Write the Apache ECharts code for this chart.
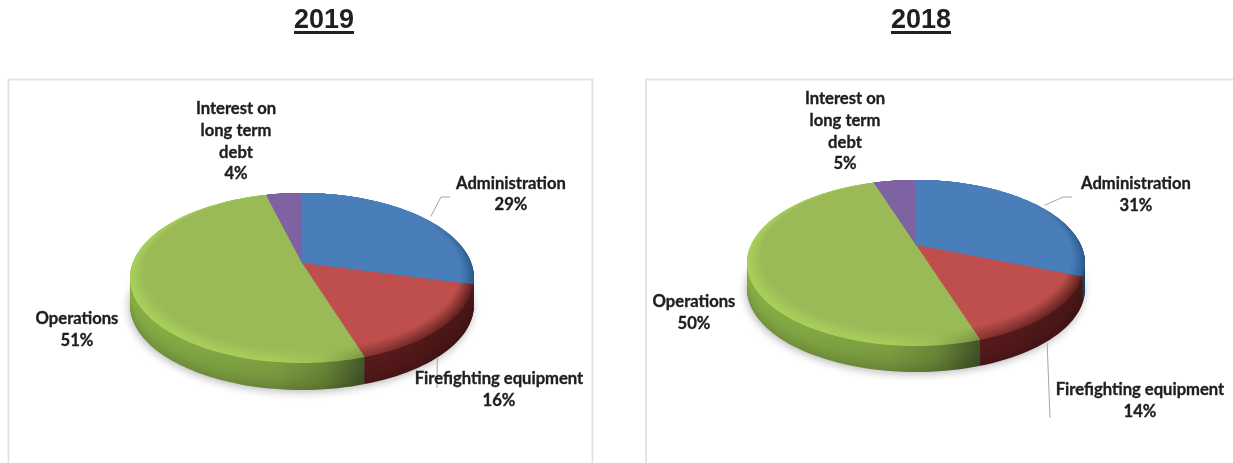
<!DOCTYPE html>
<html>
<head>
<meta charset="utf-8">
<style>html,body{margin:0;padding:0;background:#fff}#chart{width:1233px;height:463px}</style>
<script src="https://cdn.jsdelivr.net/npm/echarts@6/dist/echarts.min.js"></script>
</head>
<body>
<div id="chart"></div>
<script>
// Expense breakdown by year, drawn as two tilted, extruded pies.
const categories = ['Administration', 'Firefighting equipment', 'Operations', 'Interest on\nlong term\ndebt'];
const shares2019 = [29, 16, 51, 4];
const shares2018 = [31, 14, 50, 5];
const years = ['2019', '2018'];

// Slice colours: flat top face, then [offset across the pie, colour] stops for the rim and side wall.
const palette = [
  { face: '#4a7ebb',
    rim: [[0, '#4a7ebb'], [0.85, '#4a7ebb'], [1, '#2c5a8e']],
    wall: [[0, '#3a659a'], [0.9, '#2c5584'], [1, '#1d4066']] },
  { face: '#be4f4c',
    rim: [[0, '#b04a47'], [0.68, '#8a3431'], [1, '#5c201e']],
    wall: [[0, '#5c201e'], [0.75, '#55191a'], [1, '#471615']] },
  { face: '#9aba58',
    rim: [[0, '#a9d15a'], [0.42, '#a8cd59'], [0.55, '#9ec056'], [0.68, '#7a9642']],
    wall: [[0, '#88ae46'], [0.42, '#7b9e40'], [0.56, '#698737'], [0.68, '#43572a']] },
  { face: '#7f62a1',
    rim: [[0, '#7f62a1'], [1, '#7f62a1']],
    wall: [[0, '#5f4680'], [1, '#4a3565']] }
];

// Pie geometry, label block centres and leader routes, one entry per year.
const pieLayouts = [
  {
    cx: 302, cy: 278, rx: 172, ry: 85, tilt: -0.176, depth: 27,
    labelAt: [[511, 194], [499, 389.5], [77, 329.5], [236, 141.5]],
    leaders: [
      { shift: [8, -1], bends: [[441, 197], [450, 197]] },
      { shift: [-5, 4], bends: [[437, 388]] },
      null, null
    ]
  },
  {
    cx: 916, cy: 263, rx: 169, ry: 83, tilt: -0.217, depth: 26,
    labelAt: [[1136, 194.5], [1140, 400.5], [694, 312.5], [845, 131.5]],
    leaders: [
      { shift: [7, 0], bends: [[1063, 197], [1072, 197]] },
      { shift: [-3, 4], bends: [[1050, 418]] },
      null, null
    ]
  }
];

const RIM_STEPS = 9;
const WALL_STEPS = 28;
const ARC_SAMPLES = 2; // degrees between samples along the arc

function hexToRgb(h) {
  return [1, 3, 5].map(i => parseInt(h.slice(i, i + 2), 16));
}
function mix(a, b, t) {
  const A = hexToRgb(a), B = hexToRgb(b);
  return '#' + A.map((v, i) => Math.round(v + (B[i] - v) * t).toString(16).padStart(2, '0')).join('');
}

// Projects a point of the unit disc onto the tilted pie, with perspective.
function project(layout, u, v) {
  const k = layout.tilt;
  const d = 1 + k * v;
  return [
    layout.cx + layout.rx * u * Math.sqrt(1 - k * k) / d,
    layout.cy + layout.ry * (v + k) / d
  ];
}

// Polar-to-pie point; angle runs clockwise from twelve o'clock in percent of the circle.
function piePoint(layout, pct, radius) {
  const a = pct / 100 * Math.PI * 2;
  return project(layout, Math.sin(a) * radius, -Math.cos(a) * radius);
}

// Outline of a slice. rimInset pulls the arc in, mostly along the lower edge.
function sliceOutline(layout, from, to, rimInset, dy) {
  const apex = project(layout, 0, 0);
  const pts = [[apex[0], apex[1] + dy]];
  const n = Math.max(2, Math.ceil((to - from) * 3.6 / ARC_SAMPLES));
  for (let i = 0; i <= n; i++) {
    const pct = from + (to - from) * i / n;
    const a = pct / 100 * Math.PI * 2;
    const low = (1 - Math.cos(a)) / 2;
    const r = 1 - rimInset * Math.pow(low, 0.7);
    const p = piePoint(layout, pct, r);
    pts.push([p[0], p[1] + dy]);
  }
  return pts;
}

function horizontalFill(layout, stops) {
  const x0 = layout.cx - layout.rx, x1 = layout.cx + layout.rx;
  return new echarts.graphic.LinearGradient(x0, 0, x1, 0,
    stops.map(s => ({ offset: s[0], color: s[1] })), true);
}

// Wall darkens slightly toward the floor.
function wallFill(layout, slice, t) {
  return horizontalFill(layout, slice.wall.map(s => [s[0], mix(s[1], '#000000', 0.16 * t * t)]));
}

// The rim blends into the face colour as it moves inward.
function rimFill(layout, slice, t) {
  return horizontalFill(layout, slice.rim.map(s => [s[0], mix(s[1], slice.face, t)]));
}

function labelText(name, share) {
  return name + '\n' + share + '%';
}

function makeRenderer(layout, shares) {
  const total = shares.reduce((s, v) => s + v, 0);
  return function (params, api) {
    const idx = params.dataIndex;
    const share = api.value(0);
    let startShare = 0;
    for (let i = 0; i < idx; i++) startShare += shares[i];
    const from = startShare / total * 100;
    const to = from + share / total * 100;
    const slice = palette[idx];
    const children = [];

    // soft contact shadow beneath the disc
    if (idx === 0) {
      children.push({
        type: 'polygon', z2: 0, silent: true,
        shape: { points: sliceOutline(layout, 0, 100, 0, layout.depth).slice(1) },
        style: { fill: '#c4c4c4', shadowBlur: 8, shadowColor: 'rgba(0,0,0,0.28)', shadowOffsetY: 2, shadowOffsetX: -1 }
      });
    }

    // side wall, stacked from the floor upward
    for (let s = WALL_STEPS; s >= 0; s--) {
      const t = s / WALL_STEPS;
      children.push({
        type: 'polygon', z2: 10 + (WALL_STEPS - s), silent: true,
        shape: { points: sliceOutline(layout, from, to, 0, layout.depth * t) },
        style: { fill: wallFill(layout, slice, t) }
      });
    }

    // top face, fading from the rim colour to the flat face colour
    for (let s = 0; s <= RIM_STEPS; s++) {
      const t = s / RIM_STEPS;
      children.push({
        type: 'polygon', z2: 100 + s, silent: true,
        shape: { points: sliceOutline(layout, from, to, 0.11 * t, 0) },
        style: { fill: rimFill(layout, slice, t) }
      });
    }

    // leader line from the middle of the arc to the label
    const leader = layout.leaders[idx];
    if (leader) {
      const mid = piePoint(layout, (from + to) / 2, 1);
      const wallDrop = mid[1] > layout.cy ? layout.depth : 0;
      const start = [mid[0] + leader.shift[0], mid[1] + wallDrop + leader.shift[1]];
      children.push({
        type: 'polyline', z2: 150, silent: true,
        shape: { points: [start].concat(leader.bends) },
        style: { fill: null, stroke: '#a6a6a6', lineWidth: 1 }
      });
    }

    // category name and percentage
    const at = layout.labelAt[idx];
    children.push({
      type: 'text', z2: 200, silent: true,
      x: at[0], y: at[1],
      style: {
        text: labelText(categories[idx], share),
        fill: '#1e1e1e',
        stroke: '#1e1e1e',
        lineWidth: 0.35,
        font: 'bold 16.6px Lato, "Noto Sans", sans-serif',
        lineHeight: 21.7,
        align: 'center',
        verticalAlign: 'middle'
      }
    });

    return { type: 'group', children };
  };
}

const seriesShares = [shares2019, shares2018];
const titleStyle = { fontFamily: 'Liberation Sans', fontWeight: 'bold', fontSize: 27, color: '#231f20' };

const option = {
  animation: false,
  backgroundColor: '#ffffff',
  title: [
    { text: years[0], left: 294, top: 7, textStyle: titleStyle, padding: 0 },
    { text: years[1], left: 891, top: 7, textStyle: titleStyle, padding: 0 }
  ],
  graphic: [
    // year underlines
    { type: 'rect', silent: true, shape: { x: 294, y: 31, width: 60, height: 3 }, style: { fill: '#231f20' } },
    { type: 'rect', silent: true, shape: { x: 891, y: 31, width: 60, height: 3 }, style: { fill: '#231f20' } },
    // panel frames, open at the page edge
    { type: 'polyline', silent: true, shape: { points: [[8.5, 463], [8.5, 79.5], [592.5, 79.5], [592.5, 463]] },
      style: { fill: null, stroke: '#e3e5e5', lineWidth: 2 } },
    { type: 'polyline', silent: true, shape: { points: [[646, 463], [646, 79.5], [1233, 79.5]] },
      style: { fill: null, stroke: '#e3e5e5', lineWidth: 2 } }
  ],
  series: seriesShares.map((shares, i) => ({
    type: 'custom',
    coordinateSystem: 'none',
    silent: true,
    clip: false,
    renderItem: makeRenderer(pieLayouts[i], shares),
    data: shares.map(v => [v])
  }))
};

echarts.init(document.getElementById('chart'), null, { renderer: 'canvas' }).setOption(option);
</script>
</body>
</html>
